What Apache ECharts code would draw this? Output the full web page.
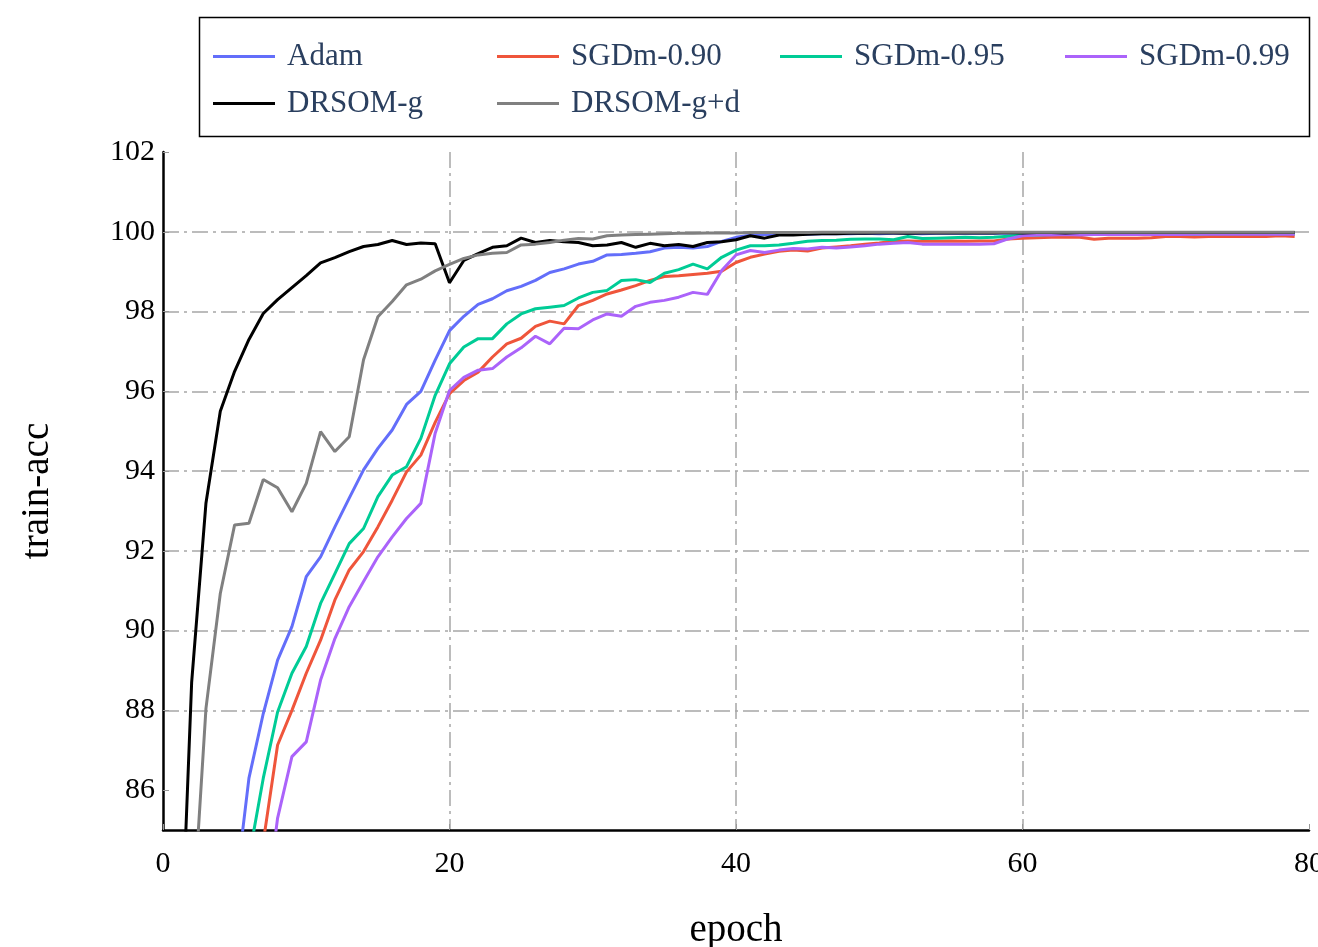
<!DOCTYPE html>
<html>
<head>
<meta charset="utf-8">
<title>train-acc</title>
<script src="https://cdn.jsdelivr.net/npm/echarts@6/dist/echarts.min.js"></script>
<style>
  html, body { margin: 0; padding: 0; background: #fff; }
  #main { width: 1318px; height: 947px; }
</style>
</head>
<body>
<div id="main"></div>
<script>
// epochs of the runs
var epochs = [1,2,3,4,5,6,7,8,9,10,11,12,13,14,15,16,17,18,19,20,
  21,22,23,24,25,26,27,28,29,30,31,32,33,34,35,36,37,38,39,40,
  41,42,43,44,45,46,47,48,49,50,51,52,53,54,55,56,57,58,59,60,
  61,62,63,64,65,66,67,68,69,70,71,72,73,74,75,76,77,78,79];

var adam = [62,70,75.5,79.8,83.3,86.3,87.92,89.26,90.1,91.35,91.85,92.6,93.32,94.03,94.57,95.03,95.67,96.0,96.78,97.52,
  97.88,98.18,98.32,98.52,98.63,98.78,98.98,99.07,99.19,99.26,99.42,99.43,99.46,99.5,99.59,99.61,99.59,99.63,99.76,99.86,
  99.91,99.93,99.93,99.94,99.94,99.95,99.95,99.95,99.96,99.95,99.96,99.96,99.95,99.96,99.96,99.96,99.97,99.96,99.96,99.97,
  99.97,99.96,99.97,99.97,99.97,99.96,99.97,99.97,99.97,99.97,99.97,99.97,99.97,99.97,99.97,99.97,99.97,99.97,99.97];

var sgd90 = [58,66,72,76.5,80,82.4,84.7,87.13,88.0,88.93,89.76,90.77,91.52,91.98,92.6,93.27,93.98,94.4,95.22,95.94,
  96.27,96.48,96.86,97.19,97.33,97.63,97.76,97.69,98.15,98.28,98.44,98.54,98.65,98.78,98.88,98.9,98.93,98.96,99.01,99.23,
  99.36,99.44,99.51,99.54,99.52,99.59,99.62,99.65,99.69,99.72,99.76,99.77,99.76,99.76,99.77,99.76,99.77,99.77,99.82,99.84,
  99.85,99.86,99.87,99.86,99.81,99.84,99.84,99.84,99.85,99.88,99.88,99.87,99.88,99.88,99.88,99.89,99.88,99.9,99.88];

var sgd95 = [60,68,74,78.5,81.8,84.3,86.3,87.96,88.93,89.6,90.68,91.43,92.18,92.56,93.36,93.9,94.11,94.82,95.9,96.69,
  97.11,97.32,97.32,97.69,97.94,98.07,98.11,98.15,98.34,98.48,98.53,98.78,98.8,98.73,98.96,99.05,99.19,99.07,99.36,99.54,
  99.65,99.65,99.67,99.71,99.76,99.78,99.79,99.81,99.82,99.82,99.8,99.88,99.83,99.84,99.85,99.86,99.85,99.86,99.89,99.92,
  99.92,99.93,99.93,99.93,99.94,99.93,99.94,99.94,99.94,99.94,99.95,99.94,99.95,99.95,99.95,99.95,99.95,99.95,99.95];

var sgd99 = [55,63,69,73.5,77,80,82.5,85.3,86.84,87.21,88.76,89.8,90.6,91.23,91.85,92.35,92.81,93.19,94.95,96.02,
  96.35,96.53,96.57,96.86,97.09,97.38,97.19,97.58,97.57,97.79,97.94,97.88,98.13,98.23,98.28,98.36,98.48,98.43,99.03,99.42,
  99.53,99.48,99.54,99.58,99.57,99.61,99.59,99.62,99.65,99.69,99.71,99.73,99.69,99.69,99.69,99.69,99.69,99.7,99.82,99.9,
  99.92,99.92,99.93,99.92,99.93,99.93,99.93,99.93,99.93,99.94,99.93,99.94,99.94,99.94,99.94,99.94,99.94,99.94,99.94];

var drsomG = [79.5,88.7,93.2,95.5,96.5,97.3,97.95,98.3,98.6,98.9,99.22,99.35,99.5,99.63,99.68,99.78,99.68,99.72,99.7,98.72,
  99.28,99.45,99.61,99.65,99.84,99.73,99.78,99.75,99.73,99.65,99.67,99.73,99.61,99.71,99.65,99.68,99.63,99.73,99.75,99.8,
  99.9,99.84,99.92,99.92,99.94,99.95,99.95,99.96,99.96,99.97,99.97,99.96,99.97,99.97,99.97,99.97,99.97,99.97,99.98,99.97,
  99.98,99.98,99.97,99.98,99.98,99.98,99.98,99.98,99.98,99.98,99.98,99.98,99.98,99.98,99.98,99.98,99.98,99.98,99.98];

var drsomGD = [76,82.3,88.05,90.93,92.65,92.69,93.79,93.58,92.98,93.69,94.99,94.49,94.86,96.79,97.87,98.25,98.67,98.81,99.02,99.18,
  99.33,99.42,99.46,99.48,99.67,99.69,99.73,99.79,99.83,99.82,99.9,99.92,99.93,99.94,99.95,99.96,99.96,99.97,99.97,99.97,
  99.98,99.98,99.98,99.98,99.98,99.99,99.99,99.99,99.99,99.99,99.99,99.99,99.99,99.99,99.99,99.99,99.99,99.99,99.99,99.99,
  99.99,99.99,99.99,99.99,99.99,99.99,99.99,99.99,99.99,99.99,99.99,99.99,99.99,99.99,99.99,99.99,99.99,99.99,99.99];

var yTicks = [86, 88, 90, 92, 94, 96, 98, 100, 102];

var names = ['Adam', 'SGDm-0.90', 'SGDm-0.95', 'SGDm-0.99', 'DRSOM-g', 'DRSOM-g+d'];
var values = [adam, sgd90, sgd95, sgd99, drsomG, drsomGD];
var colors = ['#636efa', '#ef553b', '#00cc96', '#ab63fa', '#000000', '#808080'];

var serif = "'Liberation Serif', 'DejaVu Serif', serif";
var gridDash = [16, 5, 3, 5];

function pairs(ys) {
  var out = [];
  for (var i = 0; i < epochs.length; i++) out.push([epochs[i], ys[i]]);
  return out;
}

var series = [];
for (var i = 0; i < names.length; i++) {
  series.push({
    type: 'line',
    name: names[i],
    data: pairs(values[i]),
    symbol: 'none',
    clip: true,
    lineStyle: { width: 3, color: colors[i] },
    itemStyle: { color: colors[i] }
  });
}

// legend laid out as a 4 column grid
var legendPos = [[213, 41], [497, 41], [780, 41], [1065, 41], [213, 88], [497, 88]];
var legends = [];
for (var j = 0; j < names.length; j++) {
  legends.push({
    data: [names[j]],
    left: legendPos[j][0],
    top: legendPos[j][1],
    padding: 0,
    icon: 'rect',
    itemWidth: 62,
    itemHeight: 3,
    selectedMode: false,
    textStyle: { fontFamily: serif, fontSize: 31, color: '#2a3f5f', padding: [0, 0, 0, 7] }
  });
}

var myChart = echarts.init(document.getElementById('main'));
myChart.setOption({
  backgroundColor: '#fff',
  animation: false,
  legend: legends,
  graphic: [{
    type: 'rect',
    shape: { x: 199.5, y: 17.5, width: 1110, height: 119 },
    style: { fill: 'none', stroke: '#000', lineWidth: 1.5 }
  }],
  grid: { left: 163, right: 9, top: 152, bottom: 117, outerBoundsMode: 'none', containLabel: false },
  xAxis: {
    type: 'value',
    min: 0,
    max: 80,
    interval: 20,
    name: 'epoch',
    nameLocation: 'middle',
    nameGap: 81,
    nameTextStyle: { fontFamily: serif, fontSize: 39, color: '#000' },
    axisLine: { show: true, onZero: false, lineStyle: { color: '#000', width: 2.5 } },
    axisTick: { show: true, inside: true, length: 6, lineStyle: { color: '#999', width: 1 } },
    axisLabel: { fontFamily: serif, fontSize: 30, color: '#000', margin: 19, showMaxLabel: true },
    splitLine: { show: true, showMinLine: false, showMaxLine: false, lineStyle: { color: '#a6a6a6', width: 1.5, type: gridDash } }
  },
  yAxis: {
    type: 'value',
    min: 85,
    max: 102,
    name: 'train-acc',
    nameLocation: 'middle',
    nameGap: 106,
    nameTextStyle: { fontFamily: serif, fontSize: 39, color: '#000' },
    axisLine: { show: true, onZero: false, lineStyle: { color: '#000', width: 2.5 } },
    axisTick: { show: true, inside: true, length: 6, customValues: yTicks, lineStyle: { color: '#999', width: 1 } },
    axisLabel: { fontFamily: serif, fontSize: 30, color: '#000', margin: 8, customValues: yTicks },
    splitLine: { show: true, showMinLine: false, showMaxLine: false, lineStyle: { color: '#a6a6a6', width: 1.5, type: gridDash } }
  },
  series: series
});
</script>
</body>
</html>
